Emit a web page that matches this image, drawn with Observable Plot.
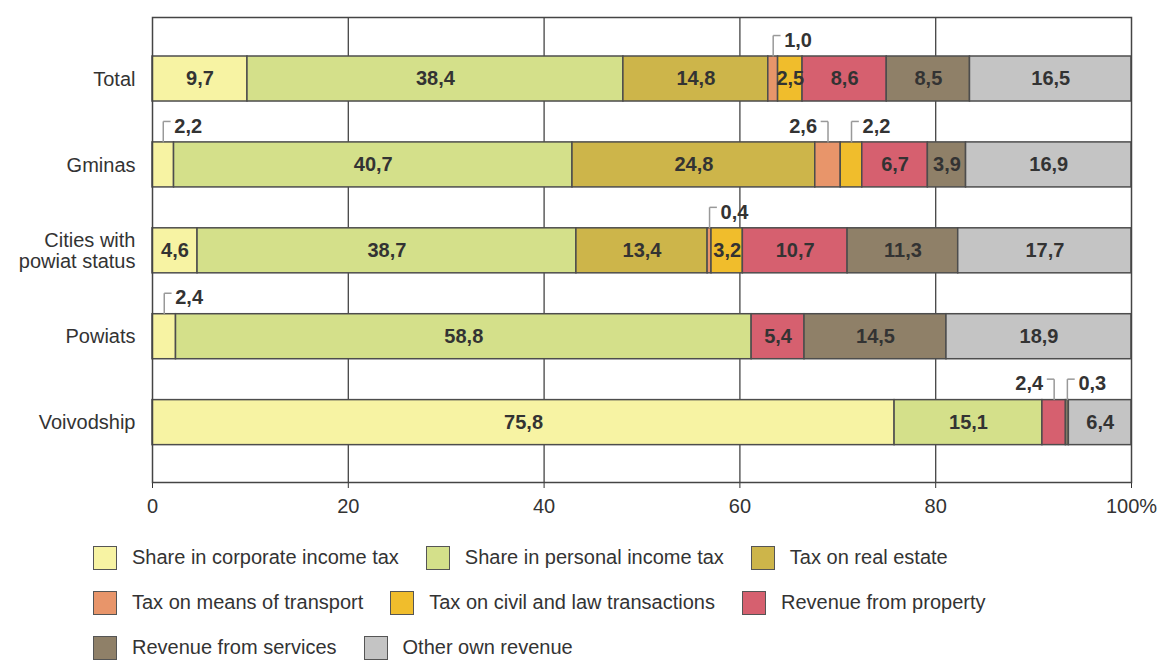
<!DOCTYPE html>
<html>
<head>
<meta charset="utf-8">
<script src="https://cdn.jsdelivr.net/npm/d3@7"></script>
<script src="https://cdn.jsdelivr.net/npm/@observablehq/plot@0.6"></script>
<style>
  html, body { margin: 0; padding: 0; background: #fff; }
  body { width: 1165px; height: 660px; overflow: hidden; font-family: "Liberation Sans", Arial, sans-serif; color: #333; }
  #legend { margin-top: 8px; padding-left: 93px; font-size: 20px; }
  .row { display: flex; align-items: center; height: 45px; }
  .item { display: flex; align-items: center; margin-right: 27px; }
  .sw { width: 22px; height: 22px; border: 1.5px solid #555; margin-right: 15px; box-sizing: content-box; }
</style>
</head>
<body>
<div id="chart"></div>
<div id="legend"></div>
<script>
const categories = ["Total", "Gminas", "Cities with\npowiat status", "Powiats", "Voivodship"];
const seriesNames = [
  "Share in corporate income tax",
  "Share in personal income tax",
  "Tax on real estate",
  "Tax on means of transport",
  "Tax on civil and law transactions",
  "Revenue from property",
  "Revenue from services",
  "Other own revenue"
];
const corporateTax   = [9.7, 2.2, 4.6, 2.4, 75.8];
const personalTax    = [38.4, 40.7, 38.7, 58.8, 15.1];
const realEstateTax  = [14.8, 24.8, 13.4, 0, 0];
const transportTax   = [1.0, 2.6, 0.4, 0, 0];
const civilLawTax    = [2.5, 2.2, 3.2, 0, 0];
const propertyRev    = [8.6, 6.7, 10.7, 5.4, 2.4];
const servicesRev    = [8.5, 3.9, 11.3, 14.5, 0.3];
const otherRev       = [16.5, 16.9, 17.7, 18.9, 6.4];
const colors = ["#f7f3a3", "#d4e08a", "#cdb54a", "#e8956a", "#f0bd2c", "#d6606f", "#8f8068", "#c4c4c4"];
const xTicks = [0, 20, 40, 60, 80, 100];
// values labelled outside their segment: [category index, series index, side]
const callouts = [
  [0, 3, "right"],
  [1, 0, "right"],
  [1, 3, "left"],
  [1, 4, "right"],
  [2, 3, "right"],
  [3, 0, "right"],
  [4, 5, "left"],
  [4, 6, "right"]
];

const seriesValues = [corporateTax, personalTax, realEstateTax, transportTax, civilLawTax, propertyRev, servicesRev, otherRev];
const fmt = v => v.toFixed(1).replace(".", ",");

const segs = [];
categories.forEach((c, i) => {
  let acc = 0;
  seriesValues.forEach((vals, j) => {
    const v = vals[i];
    if (v > 0) {
      segs.push({i, j, series: seriesNames[j], value: v, x1: acc, x2: acc + v, mid: acc + v / 2, label: fmt(v)});
    }
    acc += v;
  });
});
const isCallout = s => callouts.some(([ci, sj]) => ci === s.i && sj === s.j);
const inside = segs.filter(s => !isCallout(s));
const outside = callouts.map(([ci, sj, side]) => {
  const s = segs.find(d => d.i === ci && d.j === sj);
  return {...s, side};
});

const half = 0.262;
const hLevel = 0.506;
const tLevel = 0.45;
const hookLen = 0.75;

const chart = Plot.plot({
  width: 1165,
  height: 527,
  marginLeft: 152,
  marginRight: 34,
  marginTop: 17,
  marginBottom: 45,
  style: {fontFamily: "'Liberation Sans', Arial, sans-serif", fontSize: "20px", color: "#333", background: "#fff"},
  x: {domain: [0, 100], ticks: xTicks, tickFormat: d => d === 100 ? "100%" : String(d), tickSize: 6, tickPadding: 10, label: null},
  y: {domain: [-0.716, 4.697], reverse: true, axis: null},
  color: {domain: seriesNames, range: colors},
  marks: [
    Plot.ruleX([20, 40, 60, 80], {stroke: "#444", strokeWidth: 1.3}),
    Plot.rectX(segs, {x1: "x1", x2: "x2", y1: d => d.i - half, y2: d => d.i + half, fill: "series", stroke: "#4d4d4d", strokeWidth: 1.5}),
    Plot.text(inside, {x: "mid", y: "i", text: "label", fontWeight: "bold", fill: "#333"}),
    Plot.link(outside, {x1: "mid", x2: "mid", y1: d => d.i - half, y2: d => d.i - hLevel, stroke: "#999", strokeWidth: 1.5}),
    Plot.link(outside, {x1: "mid", x2: d => d.side === "right" ? d.mid + hookLen : d.mid - hookLen, y1: d => d.i - hLevel, y2: d => d.i - hLevel, stroke: "#999", strokeWidth: 1.5}),
    Plot.text(outside.filter(d => d.side === "right"), {x: "mid", y: d => d.i - tLevel, text: "label", dx: 11, textAnchor: "start", fontWeight: "bold", fill: "#333"}),
    Plot.text(outside.filter(d => d.side === "left"), {x: "mid", y: d => d.i - tLevel, text: "label", dx: -11, textAnchor: "end", fontWeight: "bold", fill: "#333"}),
    Plot.text(categories, {x: 0, y: (d, i) => i, text: d => d, dx: -17, textAnchor: "end", fill: "#333", lineHeight: 1.05}),
    Plot.frame({stroke: "#444", strokeWidth: 1.5})
  ]
});
document.getElementById("chart").appendChild(chart);

const legendRows = [[0, 1, 2], [3, 4, 5], [6, 7]];
const legend = d3.select("#legend");
legendRows.forEach(r => {
  const row = legend.append("div").attr("class", "row");
  r.forEach(j => {
    const item = row.append("div").attr("class", "item");
    item.append("div").attr("class", "sw").style("background", colors[j]);
    item.append("span").text(seriesNames[j]);
  });
});
</script>
</body>
</html>
